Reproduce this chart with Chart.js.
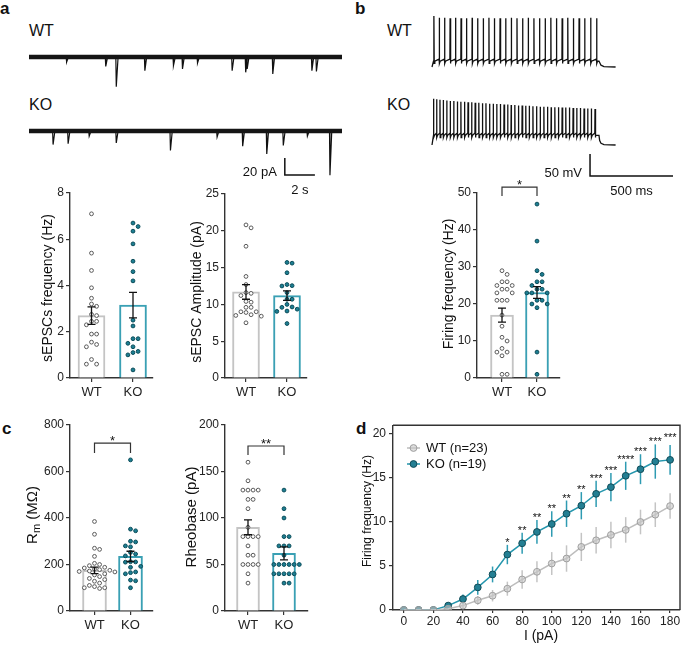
<!DOCTYPE html>
<html>
<head>
<meta charset="utf-8">
<script src="https://cdn.jsdelivr.net/npm/chart.js@4.4.1/dist/chart.umd.min.js"></script>
<style>
  body { margin: 0; background: #fff; }
  #fig { position: relative; width: 685px; height: 649px; overflow: hidden; background: #fff;
         font-family: 'Liberation Sans', Arial, sans-serif; color: #111; }
  canvas { position: absolute; }
  .lab { position: absolute; line-height: 1; white-space: nowrap; }
  .pl { font-weight: bold; font-size: 17px; }
  .tr { font-size: 16px; }
</style>
</head>
<body>
<div id="fig">
  <div class="lab pl" style="left:0px;top:0px">a</div>
  <div class="lab pl" style="left:355px;top:0px">b</div>
  <div class="lab pl" style="left:2px;top:420px">c</div>
  <div class="lab pl" style="left:356px;top:420px">d</div>
  <div class="lab tr" style="left:29px;top:23px">WT</div>
  <div class="lab tr" style="left:29px;top:97px">KO</div>
  <div class="lab tr" style="left:387px;top:23px">WT</div>
  <div class="lab tr" style="left:387px;top:97px">KO</div>
</div>
<script>
// ---- panel a: sEPSC traces (event time s, amplitude pA) ----
const sWTt = [2.5, 5.1, 5.8, 7.7, 9.6, 10.2, 11.2, 13.5, 14.4, 14.5, 16.2, 18.8, 19.1];
const sWTa = [6, 11, 35, 16, 10, 14, 7, 16, 18, 14, 20, 16, 17];
const sKOt = [1.6, 2.6, 4.0, 5.8, 9.4, 12.5, 14.2, 15.8, 16.9, 18.5, 20.0];
const sKOa = [16, 15, 6, 14, 23, 7, 18, 27, 17, 6, 52];
const sweepLen = 20.8;

// ---- panel b: action potential trains (spike time ms, peak mV) ----
const apWTt = [6, 38, 70, 103, 136, 169, 202, 236, 269, 303, 337, 370, 404, 438, 472, 506, 540, 574, 608, 642, 676, 710, 744, 778, 812, 846, 880, 914, 950, 986];
const apWTp = [46, 42, 42, 41, 42, 41, 41, 42, 41, 41, 42, 41, 41, 41, 42, 41, 41, 42, 41, 41, 41, 42, 41, 41, 42, 41, 41, 41, 42, 41];
const apKOt = [4, 22, 42, 62, 83, 104, 125, 147, 168, 190, 211, 233, 254, 276, 298, 319, 341, 363, 384, 406, 428, 450, 471, 493, 515, 537, 559, 580, 602, 624, 646, 668, 690, 712, 734, 756, 778, 800, 822, 844, 866, 888, 910, 932, 954, 976];
const apKOp = [35, 34, 33, 32, 31, 30, 30, 29, 28, 28, 27, 27, 26, 26, 25, 25, 24, 24, 23, 23, 22, 22, 21, 21, 20, 20, 19, 19, 18, 18, 17, 17, 17, 16, 16, 16, 15, 15, 15, 14, 14, 14, 13, 13, 13, 12];
const restMV = -70, stepEnd = 1000;

// ---- bar panels ----
const groups = ['WT', 'KO'];
const freqWT = [7.1, 5.4, 4.65, 3.9, 3.45, 3.1, 3.2, 2.75, 2.7, 2.45, 2.45, 2.3, 1.9, 1.9, 1.55, 1.45, 1.35, 0.8, 0.6, 0.6];
const freqKO = [6.7, 6.55, 6.35, 5.8, 5.05, 4.6, 4.2, 2.5, 2.25, 1.7, 1.7, 1.5, 1.35, 1.15, 1.1, 1.0, 0.35];
const freqMean = [2.7, 3.15], freqSem = [0.38, 0.55];
const ampWT = [20.8, 20.4, 17.9, 13.8, 12.7, 11.6, 11.5, 11.2, 10.4, 10.3, 9.6, 9.6, 9.0, 9.0, 8.9, 8.6, 8.5, 8.4, 7.5];
const ampKO = [15.7, 15.6, 14.3, 12.7, 12.55, 12.5, 11.6, 10.7, 10.7, 10.0, 9.65, 9.6, 9.35, 9.1, 9.05, 7.4];
const ampMean = [11.7, 11.2], ampSem = [1.0, 0.65];
const fireWT = [29, 28, 26, 26, 25, 25, 24, 24, 23, 23, 21, 21, 21, 17, 14, 11, 10, 8, 7, 7, 6, 1, 1];
const fireKO = [47, 37, 29, 28, 26, 26, 25, 24, 24, 23, 23, 23, 21, 21, 20, 20, 19, 7, 1];
const fireMean = [17, 23.1], fireSem = [1.9, 1.6];
const rmWT = [385, 330, 270, 265, 235, 205, 200, 195, 188, 185, 180, 178, 175, 172, 170, 168, 160, 155, 148, 140, 135, 128, 120, 110, 105, 100, 100, 97];
const rmKO = [650, 352, 345, 300, 297, 280, 276, 252, 245, 237, 212, 211, 210, 192, 188, 168, 165, 160, 133, 130, 100];
const rmMean = [175, 235], rmSem = [14, 22];
const rheoWT = [160, 140, 130, 130, 130, 130, 120, 120, 110, 90, 80, 80, 80, 80, 70, 60, 60, 50, 50, 50, 50, 40, 30];
const rheoKO = [130, 110, 100, 80, 80, 70, 70, 70, 60, 50, 50, 50, 50, 50, 50, 40, 40, 40, 40, 40, 30, 30];
const rheoMean = [90, 62], rheoSem = [8, 7];

const ticksFreq = [0, 2, 4, 6, 8];
const ticksAmp = [0, 5, 10, 15, 20, 25];
const ticksFire = [0, 10, 20, 30, 40, 50];
const ticksRm = [0, 200, 400, 600, 800];
const ticksRheo = [0, 50, 100, 150, 200];

// ---- panel d: F-I curve ----
const currents = [0, 10, 20, 30, 40, 50, 60, 70, 80, 90, 100, 110, 120, 130, 140, 150, 160, 170, 180];
const wtFI = [0, 0, 0, 0.15, 0.5, 1.1, 1.62, 2.42, 3.47, 4.34, 5.28, 5.85, 7.17, 7.92, 8.53, 9.1, 10.0, 10.83, 11.81];
const wtFIerr = [0, 0, 0, 0.1, 0.3, 0.5, 0.65, 0.8, 1.05, 1.2, 1.3, 1.5, 1.6, 1.5, 1.5, 1.45, 1.4, 1.4, 1.45];
const koFI = [0, 0, 0, 0.5, 1.25, 2.57, 4.04, 6.3, 7.58, 8.87, 9.77, 10.94, 11.85, 13.2, 13.96, 15.25, 16.0, 16.87, 17.06];
const koFIerr = [0, 0, 0, 0.2, 0.5, 0.85, 0.9, 1.1, 1.2, 1.35, 1.45, 1.5, 1.55, 1.5, 1.6, 1.6, 1.7, 1.95, 1.7];
const fiStars = ['', '', '', '', '', '', '', '*', '**', '**', '**', '**', '**', '***', '***', '****', '***', '***', '***'];
const ticksI = [0, 20, 40, 60, 80, 100, 120, 140, 160, 180];
const ticksHz = [0, 5, 10, 15, 20];

const SANS = "'Liberation Sans', Arial, sans-serif";
const NARROW = "'Liberation Sans Narrow', 'Liberation Sans', Arial, sans-serif";
const GREY = '#c4c4c4', TEAL = '#3aa0b4', DOT = '#1c7e92', DOTEDGE = '#0c4d5a';
const fig = document.getElementById('fig');

function makeCanvas(left, top, w, h) {
  const cv = document.createElement('canvas');
  cv.width = w; cv.height = h;
  cv.style.left = left + 'px'; cv.style.top = top + 'px';
  cv.style.width = w + 'px'; cv.style.height = h + 'px';
  fig.appendChild(cv);
  return cv;
}

// simple beeswarm: spread points horizontally so circles don't overlap
function swarm(vals, center, ppy, ppx, d) {
  const placed = [], out = [];
  const idx = vals.map((v, i) => i).sort((a, b) => vals[b] - vals[a]);
  idx.forEach(i => {
    const py = vals[i] * ppy;
    for (let k = 0; k < 60; k++) {
      const step = k === 0 ? 0 : (k % 2 ? Math.ceil(k / 2) : -k / 2);
      const px = step * d;
      if (placed.every(p => Math.hypot(p.px - px, p.py - py) >= d * 0.97)) {
        placed.push({px, py});
        out[i] = {x: center + px / ppx, y: vals[i]};
        break;
      }
    }
  });
  return out;
}

function axisStyle(ticks, fontSize, extra) {
  return Object.assign({
    offset: false,
    grid: {display: true, offset: false, drawOnChartArea: false, drawTicks: true, tickLength: 4, color: '#333', lineWidth: 1.2},
    border: {display: true, color: '#333', width: 1.4},
    ticks: {font: {family: NARROW, size: fontSize}, color: '#222', padding: 2},
    afterBuildTicks: s => { s.ticks = ticks.map(v => ({value: v})); }
  }, extra);
}

function drawTitle(ctx, x, y, parts) {
  ctx.save();
  ctx.translate(x, y);
  ctx.rotate(-Math.PI / 2);
  ctx.fillStyle = '#111';
  ctx.textBaseline = 'middle';
  let total = 0;
  parts.forEach(p => { ctx.font = p.size + 'px ' + SANS; total += ctx.measureText(p.t).width; });
  let cx = -total / 2;
  parts.forEach(p => {
    ctx.font = p.size + 'px ' + SANS;
    ctx.textAlign = 'left';
    ctx.fillText(p.t, cx, p.dy || 0);
    cx += ctx.measureText(p.t).width;
  });
  ctx.restore();
}

function barPanel(o) {
  const left = o.axisX - 50, top = o.yTop - 22;
  const W = o.xEnd - left + 12, H = o.y0 - top + 32;
  const cv = makeCanvas(left, top, W, H);
  const yMax = o.ticks[o.ticks.length - 1];
  const ppy = (o.y0 - o.yTop) / yMax;
  const xmin = (o.axisX - o.c0) / o.ppx, xmax = (o.xEnd - o.c0) / o.ppx;
  const r = o.r || 1.9;
  const d = 2 * r + 1.3;
  const wtPts = swarm(o.wt, 0, ppy, o.ppx, d);
  const koPts = swarm(o.ko, 1, ppy, o.ppx, d);
  new Chart(cv, {
    type: 'bar',
    data: {
      datasets: [
        {type: 'scatter', data: wtPts, pointRadius: r, pointBackgroundColor: '#fff', pointBorderColor: '#5a5a5a', pointBorderWidth: 1, order: 1},
        {type: 'scatter', data: koPts, pointRadius: r, pointBackgroundColor: DOT, pointBorderColor: DOTEDGE, pointBorderWidth: 1, order: 1},
        {type: 'bar', data: o.mean.map((m, i) => ({x: i, y: m})), backgroundColor: '#fff', borderColor: [GREY, TEAL],
         borderWidth: 2, borderSkipped: 'bottom', barThickness: o.bw, order: 2}
      ]
    },
    options: {
      responsive: false, animation: false, events: [],
      layout: {padding: {left: 0, top: 22, right: 12, bottom: 0}},
      plugins: {legend: {display: false}, tooltip: {enabled: false}},
      scales: {
        x: axisStyle([0, 1], 13, {type: 'linear', min: xmin, max: xmax,
             ticks: {font: {family: NARROW, size: 13}, color: '#222', padding: 3, callback: v => groups[v] || ''},
             afterFit: s => { s.height = 32; }}),
        y: axisStyle(o.ticks, 12, {min: 0, max: yMax, afterFit: s => { s.width = 50; }})
      }
    },
    plugins: [{
      id: 'extras',
      afterDatasetsDraw(chart) {
        const {ctx, scales: {x, y}} = chart;
        ctx.save();
        ctx.strokeStyle = '#111'; ctx.lineWidth = 1.3;
        o.mean.forEach((m, i) => {
          const px = x.getPixelForValue(i);
          const t = y.getPixelForValue(m + o.sem[i]), b = y.getPixelForValue(m - o.sem[i]);
          ctx.beginPath();
          ctx.moveTo(px, t); ctx.lineTo(px, b);
          ctx.moveTo(px - 4, t); ctx.lineTo(px + 4, t);
          ctx.moveTo(px - 4, b); ctx.lineTo(px + 4, b);
          ctx.stroke();
        });
        if (o.sig) {
          const x0 = x.getPixelForValue(0), x1 = x.getPixelForValue(1);
          const yt = y.getPixelForValue(o.sigTop), yd = y.getPixelForValue(o.sigDrop);
          ctx.strokeStyle = '#333'; ctx.lineWidth = 1.2;
          ctx.beginPath();
          ctx.moveTo(x0, yd); ctx.lineTo(x0, yt); ctx.lineTo(x1, yt); ctx.lineTo(x1, yd);
          ctx.stroke();
          ctx.fillStyle = '#111'; ctx.font = '13px ' + SANS;
          ctx.textAlign = 'center'; ctx.textBaseline = 'alphabetic';
          ctx.fillText(o.sig, (x0 + x1) / 2, yt + 2);
        }
        ctx.restore();
        drawTitle(ctx, o.titleX - left, o.titleY - top, o.title);
      }
    }]
  });
}

barPanel({axisX: 70, yTop: 193, y0: 378, xEnd: 153, c0: 91.5, ppx: 41.5, bw: 27,
  ticks: ticksFreq, wt: freqWT, ko: freqKO, mean: freqMean, sem: freqSem,
  title: [{t: 'sEPSCs frequency (Hz)', size: 14}], titleX: 48, titleY: 288});
barPanel({axisX: 225, yTop: 194, y0: 378, xEnd: 307, c0: 246, ppx: 41, bw: 27,
  ticks: ticksAmp, wt: ampWT, ko: ampKO, mean: ampMean, sem: ampSem,
  title: [{t: 'sEPSC Amplitude (pA)', size: 14}], titleX: 197, titleY: 292});
barPanel({axisX: 477, yTop: 193, y0: 378, xEnd: 560, c0: 502, ppx: 35, bw: 23,
  ticks: ticksFire, wt: fireWT, ko: fireKO, mean: fireMean, sem: fireSem,
  sig: '*', sigTop: 51.6, sigDrop: 49.2,
  title: [{t: 'Firing frequency (Hz)', size: 14}], titleX: 449, titleY: 284});
barPanel({axisX: 70, yTop: 425, y0: 611, xEnd: 153, c0: 94.5, ppx: 36, bw: 24,
  ticks: ticksRm, wt: rmWT, ko: rmKO, mean: rmMean, sem: rmSem,
  sig: '*', sigTop: 722, sigDrop: 680,
  title: [{t: 'R', size: 15}, {t: 'm', size: 11, dy: 4}, {t: ' (MΩ)', size: 15}], titleX: 33, titleY: 515});
barPanel({axisX: 225, yTop: 425, y0: 611, xEnd: 308, c0: 248, ppx: 36, bw: 23,
  ticks: ticksRheo, wt: rheoWT, ko: rheoKO, mean: rheoMean, sem: rheoSem,
  sig: '**', sigTop: 177.4, sigDrop: 167.7,
  title: [{t: 'Rheobase (pA)', size: 15}], titleX: 192, titleY: 517});

// ---- traces ----
function scaleBarPlugin(bar) {
  return {
    id: 'scalebar',
    afterDraw(chart) {
      const {ctx, scales: {x, y}} = chart;
      const x0 = x.getPixelForValue(bar.t), x1 = x.getPixelForValue(bar.t + bar.dt);
      const yb = y.getPixelForValue(bar.v), yt = y.getPixelForValue(bar.v + bar.dv);
      ctx.save();
      ctx.strokeStyle = '#111'; ctx.lineWidth = 1.5;
      ctx.beginPath(); ctx.moveTo(x0, yt); ctx.lineTo(x0, yb); ctx.lineTo(x1, yb); ctx.stroke();
      ctx.fillStyle = '#111'; ctx.font = '13px ' + SANS; ctx.textBaseline = 'middle';
      ctx.textAlign = 'right'; ctx.fillText(bar.vLabel, x0 - 8, yb - 3);
      ctx.textAlign = 'center'; ctx.fillText(bar.tLabel, (x0 + x1) / 2, yb + 15);
      ctx.restore();
    }
  };
}

function traceChart(cv, datasets, sx, sy, bar) {
  new Chart(cv, {
    type: 'line',
    data: {datasets},
    options: {
      responsive: false, animation: false, events: [],
      layout: {padding: 0},
      plugins: {legend: {display: false}, tooltip: {enabled: false}},
      elements: {point: {radius: 0}, line: {tension: 0, borderColor: '#111'}},
      scales: {x: {type: 'linear', display: false, min: sx[0], max: sx[1]},
               y: {display: false, min: sy[0], max: sy[1]}}
    },
    plugins: [scaleBarPlugin(bar)]
  });
}

function epscEvents(ts, as, off) {
  const pts = [{x: 0, y: off}];
  ts.forEach((t, i) => { pts.push({x: t - 0.03, y: off}, {x: t, y: off - as[i]}, {x: t + 0.12, y: off}); });
  pts.push({x: sweepLen, y: off});
  return pts;
}
const koOffA = -87;
traceChart(makeCanvas(25, 30, 320, 170), [
  {data: [{x: 0, y: 0}, {x: sweepLen, y: 0}], borderWidth: 4.5, borderColor: '#151515'},
  {data: epscEvents(sWTt, sWTa, 0), borderWidth: 1.2, borderColor: '#111'},
  {data: [{x: 0, y: koOffA}, {x: sweepLen, y: koOffA}], borderWidth: 4.5, borderColor: '#151515'},
  {data: epscEvents(sKOt, sKOa, koOffA), borderWidth: 1.2, borderColor: '#111'}
], [-0.266, 21.0], [-168.2, 31.8], {t: 17.0, dt: 2, v: -138.8, dv: 20, vLabel: '20 pA', tLabel: '2 s'});

function apTrace(times, peaks, plateau, ahp, off) {
  const pts = [{x: -6, y: restMV}, {x: 0, y: restMV}, {x: 3, y: plateau}];
  times.forEach((t, i) => {
    pts.push({x: t - 1.2, y: plateau + 5}, {x: t, y: peaks[i]}, {x: t + 1.3, y: ahp}, {x: t + 5, y: plateau});
  });
  pts.push({x: stepEnd, y: plateau}, {x: stepEnd + 4, y: -60}, {x: stepEnd + 12, y: -66},
           {x: stepEnd + 30, y: -69}, {x: stepEnd + 100, y: restMV});
  return pts.map(p => ({x: p.x, y: p.y + off}));
}
const koOffB = -177.3;
traceChart(makeCanvas(428, 10, 252, 188), [
  {data: apTrace(apWTt, apWTp, -57, -62, 0), borderWidth: 1.3, borderColor: '#111'},
  {data: apTrace(apKOt, apKOp, -48, -53, koOffB), borderWidth: 1.3, borderColor: '#111'}
], [-30.1, 1488], [-367.8, 59.5], {t: 946, dt: 500, v: -317.7, dv: 50, vLabel: '50 mV', tLabel: '500 ms'});

// ---- panel d ----
(function () {
  const left = 355, top = 415;
  const cv = makeCanvas(left, top, 330, 234);
  const wtPts = currents.map((c, i) => ({x: c, y: wtFI[i]}));
  const koPts = currents.map((c, i) => ({x: c, y: koFI[i]}));
  const wtLine = '#bdbdbd', koLine = '#2596ad';
  new Chart(cv, {
    type: 'line',
    data: {datasets: [
      {label: 'WT (n=23)', data: wtPts, borderColor: wtLine, borderWidth: 1.5, pointRadius: 3.4,
       pointBackgroundColor: 'rgba(200,200,200,0.6)', pointBorderColor: '#9e9e9e', pointBorderWidth: 1},
      {label: 'KO (n=19)', data: koPts, borderColor: koLine, borderWidth: 1.5, pointRadius: 3.4,
       pointBackgroundColor: '#237f93', pointBorderColor: '#114c58', pointBorderWidth: 1}
    ]},
    options: {
      responsive: false, animation: false, events: [],
      layout: {padding: {left: 0, top: 9, right: 1, bottom: 0}},
      plugins: {legend: {display: false}, tooltip: {enabled: false}},
      scales: {
        x: axisStyle(ticksI, 12, {type: 'linear', min: -7.3, max: 186.7,
             grid: {display: true, drawOnChartArea: false, drawTicks: true, tickLength: 3, color: '#333', lineWidth: 1.2},
             ticks: {font: {family: SANS, size: 12}, color: '#222', padding: 1},
             afterFit: s => { s.height = 39; }}),
        y: axisStyle(ticksHz, 12, {min: 0, max: 21.0,
             ticks: {font: {family: SANS, size: 12}, color: '#222', padding: 3},
             afterFit: s => { s.width = 38; }})
      }
    },
    plugins: [{
      id: 'fiExtras',
      beforeDatasetsDraw(chart) {
        const {ctx, scales: {x, y}} = chart;
        ctx.save();
        ctx.lineWidth = 1.5;
        [[wtFI, wtFIerr, '#c4c4c4'], [koFI, koFIerr, '#2e9bb2']].forEach(([m, e, col]) => {
          ctx.strokeStyle = col;
          currents.forEach((c, i) => {
            if (!e[i]) return;
            const px = x.getPixelForValue(c);
            ctx.beginPath();
            ctx.moveTo(px, y.getPixelForValue(m[i] + e[i]));
            ctx.lineTo(px, y.getPixelForValue(m[i] - e[i]));
            ctx.stroke();
          });
        });
        ctx.restore();
      },
      afterDraw(chart) {
        const {ctx, chartArea: a, scales: {x, y}} = chart;
        ctx.save();
        ctx.strokeStyle = '#333'; ctx.lineWidth = 1.4;
        ctx.beginPath(); ctx.moveTo(a.left, a.top); ctx.lineTo(a.right, a.top); ctx.lineTo(a.right, a.bottom); ctx.stroke();
        ctx.fillStyle = '#111'; ctx.font = '11px ' + SANS; ctx.textAlign = 'center'; ctx.textBaseline = 'alphabetic';
        currents.forEach((c, i) => {
          if (!fiStars[i]) return;
          const lift = i === currents.length - 1 ? 5 : 0;
          ctx.fillText(fiStars[i], x.getPixelForValue(c), y.getPixelForValue(koFI[i] + koFIerr[i]) + 1 - lift);
        });
        // legend
        chart.data.datasets.forEach((ds, i) => {
          const ly = 33 + i * 16;
          ctx.strokeStyle = ds.borderColor; ctx.lineWidth = 1.5;
          ctx.beginPath(); ctx.moveTo(52, ly); ctx.lineTo(65, ly); ctx.stroke();
          ctx.beginPath(); ctx.arc(58.5, ly, 3.4, 0, Math.PI * 2);
          ctx.fillStyle = ds.pointBackgroundColor; ctx.fill();
          ctx.strokeStyle = ds.pointBorderColor; ctx.lineWidth = 1; ctx.stroke();
          ctx.fillStyle = '#111'; ctx.font = '13px ' + SANS; ctx.textAlign = 'left'; ctx.textBaseline = 'middle';
          ctx.fillText(ds.label, 71, ly);
        });
        ctx.font = '14px ' + SANS; ctx.textAlign = 'center'; ctx.textBaseline = 'middle';
        ctx.fillText('I (pA)', 186, 221);
        ctx.restore();
        drawTitle(ctx, 13, 96, [{t: 'Firing frequency (Hz)', size: 12}]);
      }
    }]
  });
})();
</script>
</body>
</html>
